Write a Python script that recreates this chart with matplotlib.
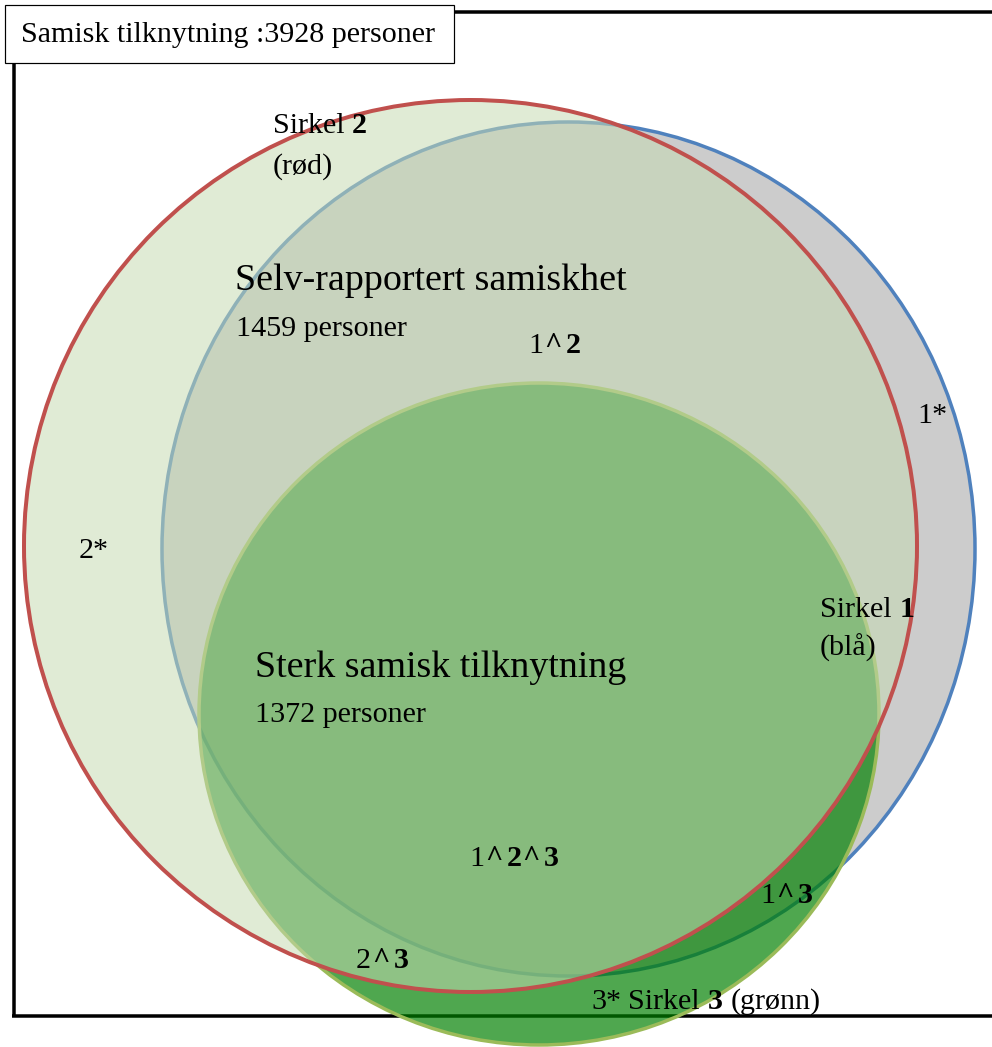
import matplotlib
matplotlib.use("Agg")
import matplotlib.pyplot as plt
from matplotlib.patches import Ellipse, Rectangle

# ---------------- data ----------------
total_label = "Samisk tilknytning"
total_count = 3928
set_names = ["Selv-rapportert samiskhet", "Sterk samisk tilknytning"]
set_counts = [1459, 1372]
circle_numbers = ["1", "2", "3"]
circle_colour_names = ["blå", "rød", "grønn"]
region_labels = ["1*", "2*", "3*", "1^2", "1^3", "2^3", "1^2^3"]

# ---------------- layout (pixels) ----------------
W, H = 992, 1047
DPI = 72
FONT = ["Liberation Serif", "DejaVu Serif"]

# ellipse geometry: centre x, centre y, semi-axis x, semi-axis y
geom = {
    "1": (568.5, 549.0, 406.5, 427.0),
    "2": (470.5, 546.0, 446.5, 446.0),
    "3": (539.0, 714.0, 340.0, 331.0),
}
face = {
    "1": (204/255, 204/255, 204/255, 1.0),
    "3": (0.0, 128/255, 0.0, 0.69),
    "2": (198/255, 218/255, 179/255, 0.54),
}
edge = {"1": "#4f81bd", "2": "#c0504d", "3": "#9bbb59"}
zord = {"1": 2, "3": 3, "2": 4}
lw = {"1": 3.5, "2": 4.0, "3": 3.5}

fig = plt.figure(figsize=(W / DPI, H / DPI), dpi=DPI)
ax = fig.add_axes([0, 0, 1, 1])
ax.set_xlim(0, W)
ax.set_ylim(H, 0)
ax.axis("off")

# frame
ax.plot([14, 14], [12, 1016], color="black", lw=3.5, zorder=1, solid_capstyle="butt")
ax.plot([12.25, W], [1016, 1016], color="black", lw=3.5, zorder=1, solid_capstyle="butt")
ax.plot([14, W], [12, 12], color="black", lw=3.5, zorder=1, solid_capstyle="butt")

for k in circle_numbers:
    cx, cy, rx, ry = geom[k]
    ax.add_patch(Ellipse((cx, cy), 2 * rx, 2 * ry, facecolor=face[k],
                         edgecolor=edge[k], lw=lw[k], zorder=zord[k]))

# title box
ax.add_patch(Rectangle((4.5, 4.5), 449.5, 58.5, facecolor="white",
                       edgecolor="black", lw=1.2, zorder=5))

renderer = fig.canvas.get_renderer()
FS = 30


def runs(x, y, pieces, size=FS):
    """pieces: list of (text, bold, gap_after_px)"""
    for txt, bold, gap in pieces:
        t = ax.text(x, y, txt, fontsize=size, family=FONT,
                    fontweight="bold" if bold else "normal",
                    ha="left", va="baseline", zorder=6)
        bb = t.get_window_extent(renderer=renderer)
        x += bb.width + gap


def region(x, y, label):
    parts = label.split("^")
    pieces = [(parts[0], False, 1)]
    for p in parts[1:]:
        pieces.append(("^", True, 4))
        pieces.append((p, True, 1))
    runs(x, y, pieces)


sp = 0.25 * FS

runs(21, 42, [(f"{total_label} :{total_count} personer", False, 0)])

# circle captions
runs(273, 133, [("Sirkel", False, sp), (circle_numbers[1], True, 0)])
runs(273, 174, [(f"({circle_colour_names[1]})", False, 0)])
runs(820, 617, [("Sirkel", False, sp), (circle_numbers[0], True, 0)])
runs(820, 656, [(f"({circle_colour_names[0]})", False, 0)])

# set names
runs(235, 290, [(set_names[0], False, 0)], size=38)
runs(236, 336, [(f"{set_counts[0]} personer", False, 0)])
runs(255, 677, [(set_names[1], False, 0)], size=38)
runs(255, 722, [(f"{set_counts[1]} personer", False, 0)])

# region labels
runs(917, 423, [(region_labels[0], False, 0)])
runs(79, 558, [(region_labels[1], False, 0)])
region(528, 353, region_labels[3])
region(760, 903, region_labels[4])
region(356, 968, region_labels[5])
region(469, 866, region_labels[6])
runs(591, 1009, [(region_labels[2], False, sp), ("Sirkel", False, sp),
                 (circle_numbers[2], True, sp),
                 (f"({circle_colour_names[2]})", False, 0)])

fig.savefig("out.png", dpi=DPI)
